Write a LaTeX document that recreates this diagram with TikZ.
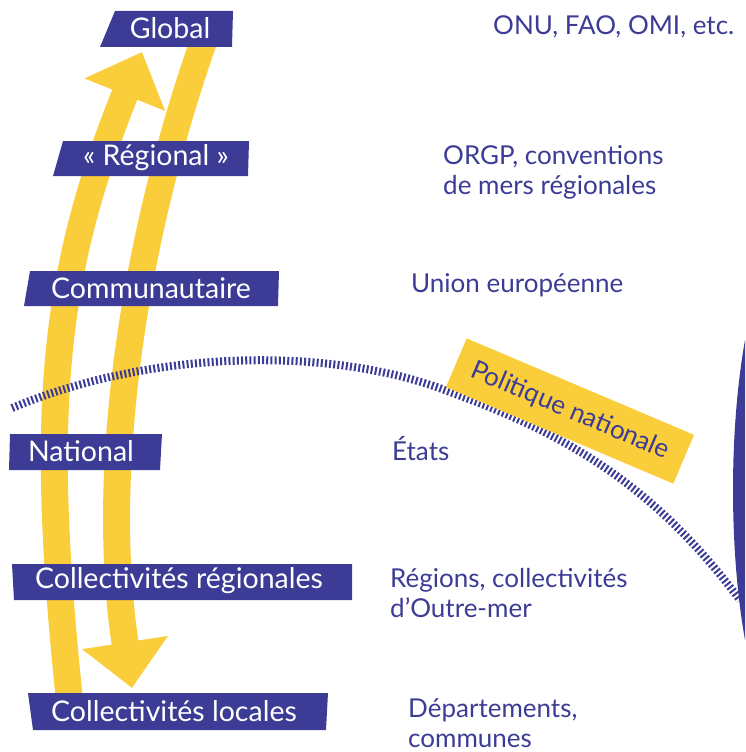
\documentclass[tikz,border=0pt]{standalone}
\usepackage{fontspec}
\setmainfont{Lato}
\usetikzlibrary{arrows.meta, positioning}
\definecolor{bleu}{HTML}{3C3C96}
\definecolor{jaune}{HTML}{FACD3A}
\tikzset{
  level/.style={text=white, font=\fontsize{28.5}{30}\selectfont, inner sep=0pt},
  actor/.style={text=bleu, font=\fontsize{26}{30}\selectfont, align=left, anchor=west, inner sep=0pt},
  flow/.style={jaune, line width=27pt, -{Triangle[length=46pt, width=84pt]}},
  hatch/.style={bleu, line width=8pt, dash pattern=on 2pt off 2.2pt},
}

\begin{document}
\begin{tikzpicture}[x=1pt, y=-1pt]
	\useasboundingbox (0,0) rectangle (745,752);
	% yellow flows
	\draw[flow] (70,705) .. controls (40,420) and (50,280) .. (142,52);
	\draw[flow] (204,40) .. controls (130,250) and (100,480) .. (132,688);
	% national border
	\draw[hatch] (12,408) .. controls (150,350) and (330,345) .. (450,392) .. controls (560,432) and (650,480) .. (740,600);
	\fill[bleu] (745,340) .. controls (729,430) and (729,550) .. (745,640) -- cycle;
	\node[fill=jaune, rotate=-23, minimum width=247pt, minimum height=53pt, text=bleu, font=\fontsize{26}{28}\selectfont] (pol) at (570,411) {Politique nationale};
	% level boxes
	\foreach \lt/\lb/\rt/\rb/\yt/\yb in {115/100/233/232/11/47, 63/53/249/248/141/176, 30/24/279/278/271/306, 10/9/162/160/434/470, 12/14/352/352/564/600, 28/33/328/326/693/730}
		\fill[bleu] (\lt,\yt) -- (\lb,\yb) -- (\rb,\yb) -- (\rt,\yt) -- cycle;
	\node[level] (global) at (170,28) {Global};
	\node[level] (regional) at (156,158) {« Régional »};
	\node[level] (commu) at (151,288) {Communautaire};
	\node[level] (national) at (81,451) {National};
	\node[level] (colreg) at (179,581) {Collectivités régionales};
	\node[level] (colloc) at (174,711) {Collectivités locales};
	% actors
	\node[actor] (onu) at (493,27) {ONU, FAO, OMI, etc.};
	\node[actor] (orgp) at (443,172) {ORGP, conventions\\de mers régionales};
	\node[actor] (ue) at (411,285) {Union européenne};
	\node[actor] (etats) at (392,449) {États};
	\node[actor] (regions) at (390,593) {Régions, collectivités\\d’Outre-mer};
	\node[actor] (dept) at (408,723) {Départements,\\communes};
\end{tikzpicture}
\end{document}
